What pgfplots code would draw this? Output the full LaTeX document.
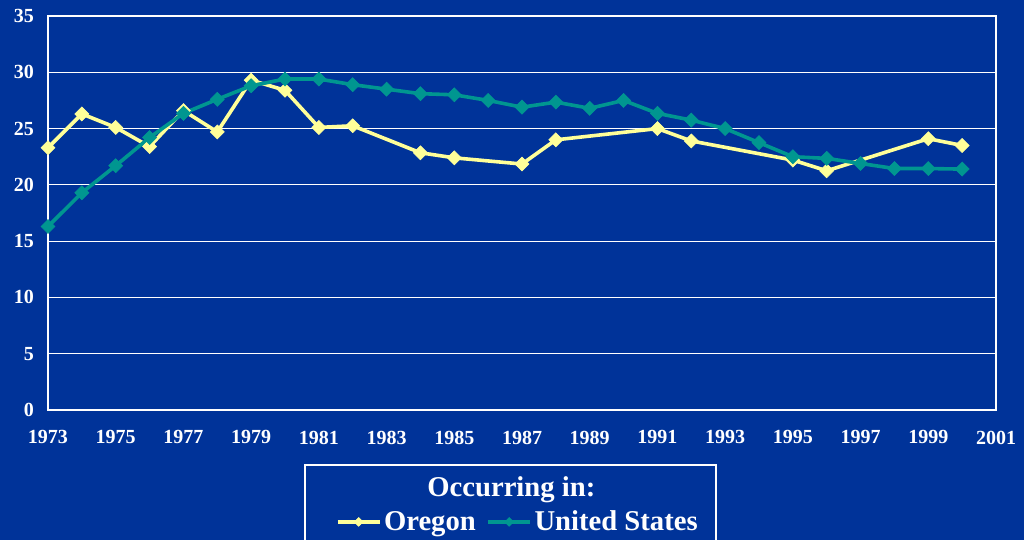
\documentclass[border=0pt]{standalone}
\usepackage{pgfplots}
\pgfplotsset{compat=1.18}
\usepackage{fontspec}
\setmainfont{Liberation Serif}
\definecolor{bg}{HTML}{003399}
\definecolor{tealc}{HTML}{009690}
\definecolor{yel}{HTML}{FFFF99}
\begin{document}
\begin{tikzpicture}[x=1pt,y=1pt]
\fill[bg] (0,0) rectangle (768,405);
\path[use as bounding box] (0,0) rectangle (768,405);
\begin{axis}[
  at={(36pt,97.5pt)}, anchor=south west,
  scale only axis, width=711pt, height=295.5pt,
  xmin=1973, xmax=2001, ymin=0, ymax=35,
  xtick={1973,1975,...,2001}, ytick={0,5,...,35},
  /pgf/number format/1000 sep={},
  /pgf/number format/assume math mode=true,
  ticklabel style={font=\fontsize{15}{17}\selectfont\bfseries, text=white},
  xticklabel style={yshift=-12pt},
  yticklabel style={xshift=-7pt},
  major tick length=0pt,
  axis line style={white, line width=1.1pt},
  ymajorgrids, major grid style={white, line width=0.8pt},
  legend columns=2,
  legend style={draw=none, fill=none, at={(0.496,-0.284)}, anchor=center,
    font=\fontsize{21.5}{24}\selectfont\bfseries, text=white,
    /tikz/every even column/.append style={column sep=6pt}},
  legend image code/.code={\draw[mark repeat=2, mark phase=2, mark size=2.3pt] plot coordinates {(0cm,0cm) (0.55cm,0cm) (1.1cm,0cm)};},
]
\addplot[yel, line width=2.7pt, mark=square*, mark size=3.7pt, mark options={rotate=45, fill=yel, draw=yel, line width=0.5pt}] coordinates {
(1973,23.3) (1974,26.3) (1975,25.1) (1976,23.4) (1977,26.6) (1978,24.7) (1979,29.3) (1980,28.4) (1981,25.1) (1982,25.25) (1984,22.85) (1985,22.4) (1987,21.85) (1988,24.0) (1991,25.0) (1992,23.9) (1995,22.2) (1996,21.25) (1999,24.1) (2000,23.5)
};
\addplot[tealc, line width=2.7pt, mark=square*, mark size=3.7pt, mark options={rotate=45, fill=tealc, draw=tealc, line width=0.5pt}] coordinates {
(1973,16.3) (1974,19.3) (1975,21.7) (1976,24.2) (1977,26.35) (1978,27.6) (1979,28.8) (1980,29.4) (1981,29.4) (1982,28.9) (1983,28.5) (1984,28.1) (1985,28.0) (1986,27.5) (1987,26.9) (1988,27.35) (1989,26.8) (1990,27.5) (1991,26.35) (1992,25.75) (1993,25.0) (1994,23.75) (1995,22.5) (1996,22.35) (1997,21.9) (1998,21.45) (1999,21.45) (2000,21.4)
};
\legend{Oregon, United States}
\end{axis}
\draw[white, line width=0.8pt] (228.75,56.25) rectangle (537,-10);
\node[text=white, font=\fontsize{21.5}{24}\selectfont\bfseries] at (383.5,37.5) {Occurring in:};
\end{tikzpicture}
\end{document}
